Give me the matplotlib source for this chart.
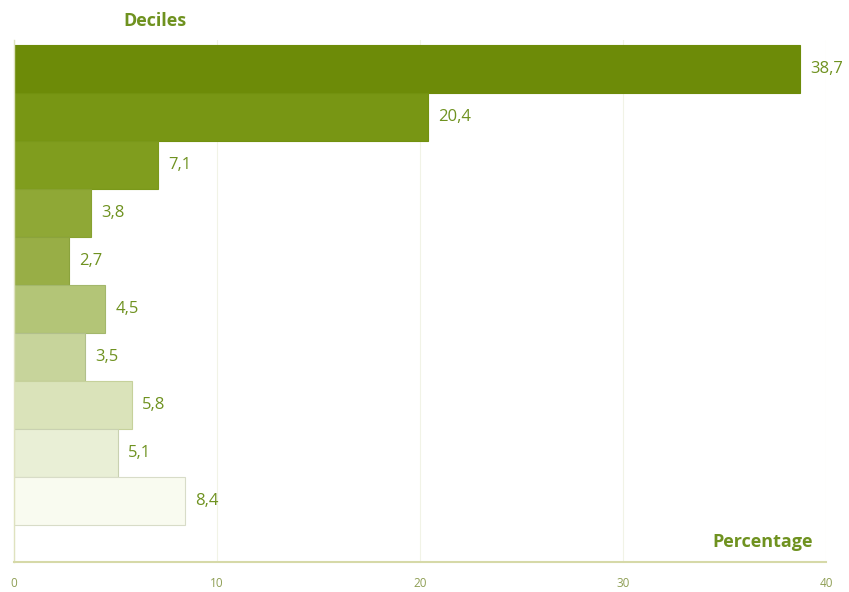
import numpy as np
import matplotlib
matplotlib.use("Agg")
import matplotlib.pyplot as plt

plt.rcParams['font.family'] = ['Open Sans', 'DejaVu Sans']

# share of each decile, top bar first
values = [38.7, 20.4, 7.1, 3.8, 2.7, 4.5, 3.5, 5.8, 5.1, 8.4]
labels = ["38,7", "20,4", "7,1", "3,8", "2,7", "4,5", "3,5", "5,8", "5,1", "8,4"]
xticks = [0, 10, 20, 30, 40]

# fill shades, dark olive down to almost white
colors = ['#6d8b08', '#789614', '#809d1e', '#8fa836', '#98ae46',
          '#b3c577', '#c7d49b', '#dae3ba', '#e9efd6', '#f9fbf0']
edges = ['#6d8b08', '#72910f', '#7a981a', '#87a130', '#8ba33d',
         '#a3b76b', '#b1bf8b', '#c6d19b', '#c9d1b1', '#d8dcc8']

text_col = '#6f9220'
tick_col = '#8f9f55'

fig = plt.figure(figsize=(8.49, 5.92), dpi=100)
ax = fig.add_axes([14/849, 30/592, 812/849, 522/592])

ypos = np.arange(len(values))
ax.barh(ypos, values, height=1.0, color=colors, edgecolor=edges, linewidth=0.8, zorder=2)

for y, v, s in zip(ypos, values, labels):
    ax.text(v + 0.5, y, s, va='center', ha='left', fontsize=12, color=text_col)

ax.set_xlim(0, 40)
ax.set_ylim(10.27, -0.604)

ax.set_xticks(xticks)
ax.set_xticklabels([str(t) for t in xticks])
ax.set_yticks([])
ax.tick_params(axis='x', length=0, pad=11, labelsize=8.5, labelcolor=tick_col)

ax.grid(axis='x', color='#f1f3e6', linewidth=0.8, zorder=0)
for side in ['top', 'right']:
    ax.spines[side].set_visible(False)
ax.spines['bottom'].set_color('#d6d9a8')
ax.spines['bottom'].set_linewidth(1.5)
ax.spines['left'].set_color('#dfe2bf')
ax.spines['left'].set_linewidth(1.0)

fig.text(155/849, 1 - 21/592, "Deciles", ha='center', va='center',
         fontsize=13, fontweight='bold', color=text_col)
fig.text(813/849, 1 - 542/592, "Percentage", ha='right', va='center',
         fontsize=13, fontweight='bold', color=text_col)

fig.savefig('out.png', dpi=100)
